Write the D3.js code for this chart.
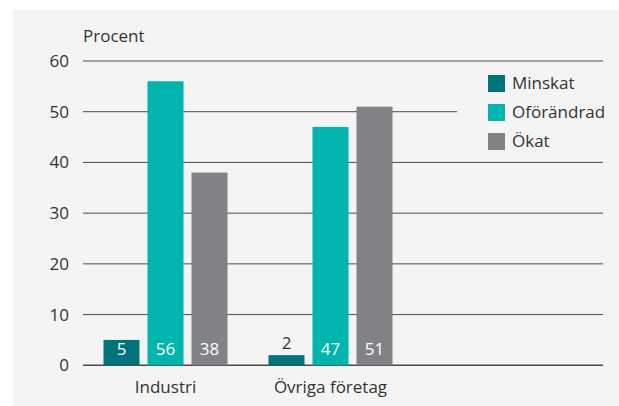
<!DOCTYPE html>
<html>
<head>
<meta charset="utf-8">
<script src="https://cdn.jsdelivr.net/npm/d3@7"></script>
<style>
  body { margin: 0; background: #fff; }
  text { font-family: "Open Sans", sans-serif; fill: #333; }
</style>
</head>
<body>
<svg id="chart"></svg>
<script>
const categories = ["Industri", "Övriga företag"];
const seriesNames = ["Minskat", "Oförändrad", "Ökat"];
const minskat = [5, 2];
const oforandrad = [56, 47];
const okat = [38, 51];
const yTicks = [0, 10, 20, 30, 40, 50, 60];
const colors = ["#00747a", "#00b5ad", "#808285"];

const width = 619, height = 406;
const values = [minskat, oforandrad, okat];

const svg = d3.select("#chart")
    .attr("width", width)
    .attr("height", height);

// panel background
svg.append("rect")
    .attr("x", 13).attr("y", 10)
    .attr("width", 606).attr("height", 396)
    .attr("fill", "#f4f4f4");

const left = 83, right = 603;

const y = d3.scaleLinear().domain([0, 60]).range([365.3, 61]);
const x0 = d3.scaleBand().domain(categories).range([left, left + 330]);
const x1 = d3.scaleBand().domain(seriesNames).range([0, 124]).paddingInner(8 / 44);

// gridlines (the 50 line stops before the legend)
svg.append("g")
  .selectAll("line")
  .data(yTicks)
  .join("line")
    .attr("x1", left)
    .attr("x2", d => d === 50 ? 457 : right)
    .attr("y1", d => y(d))
    .attr("y2", d => y(d))
    .attr("stroke", "#4a4a4a")
    .attr("stroke-width", d => d === 0 ? 1.4 : 1);

// y tick labels
svg.append("g")
    .attr("text-anchor", "end")
    .attr("font-size", 17)
  .selectAll("text")
  .data(yTicks)
  .join("text")
    .attr("x", 69)
    .attr("y", d => y(d))
    .attr("dy", "0.35em")
    .text(d => d);

svg.append("text")
    .attr("x", 83).attr("y", 42)
    .attr("font-size", 17)
    .text("Procent");

// bars
const rows = [];
categories.forEach((c, i) => {
  seriesNames.forEach((s, j) => rows.push({cat: c, series: s, j, value: values[j][i]}));
});

const barX = d => x0(d.cat) + x0.bandwidth() / 2 - 62 + x1(d.series);

svg.append("g")
  .selectAll("rect")
  .data(rows)
  .join("rect")
    .attr("x", barX)
    .attr("y", d => y(d.value))
    .attr("width", x1.bandwidth())
    .attr("height", d => y(0) - y(d.value))
    .attr("fill", d => colors[d.j]);

svg.append("g")
    .attr("text-anchor", "middle")
    .attr("font-size", 17)
  .selectAll("text")
  .data(rows)
  .join("text")
    .attr("x", d => barX(d) + x1.bandwidth() / 2)
    .attr("y", d => y(0) - y(d.value) < 20 ? y(d.value) - 6 : y(0) - 10)
    .style("fill", d => y(0) - y(d.value) < 20 ? "#333" : "#fff")
    .text(d => d.value);

// category labels
svg.append("g")
    .attr("text-anchor", "middle")
    .attr("font-size", 17)
  .selectAll("text")
  .data(categories)
  .join("text")
    .attr("x", d => x0(d) + x0.bandwidth() / 2)
    .attr("y", 393)
    .text(d => d);

// legend
const legend = svg.append("g")
  .selectAll("g")
  .data(seriesNames)
  .join("g")
    .attr("transform", (d, i) => `translate(488,${75 + i * 29})`);

legend.append("rect")
    .attr("width", 17).attr("height", 17)
    .attr("fill", (d, i) => colors[i]);

legend.append("text")
    .attr("x", 24).attr("y", 8.5)
    .attr("dy", "0.35em")
    .attr("font-size", 17)
    .text(d => d);
</script>
</body>
</html>
